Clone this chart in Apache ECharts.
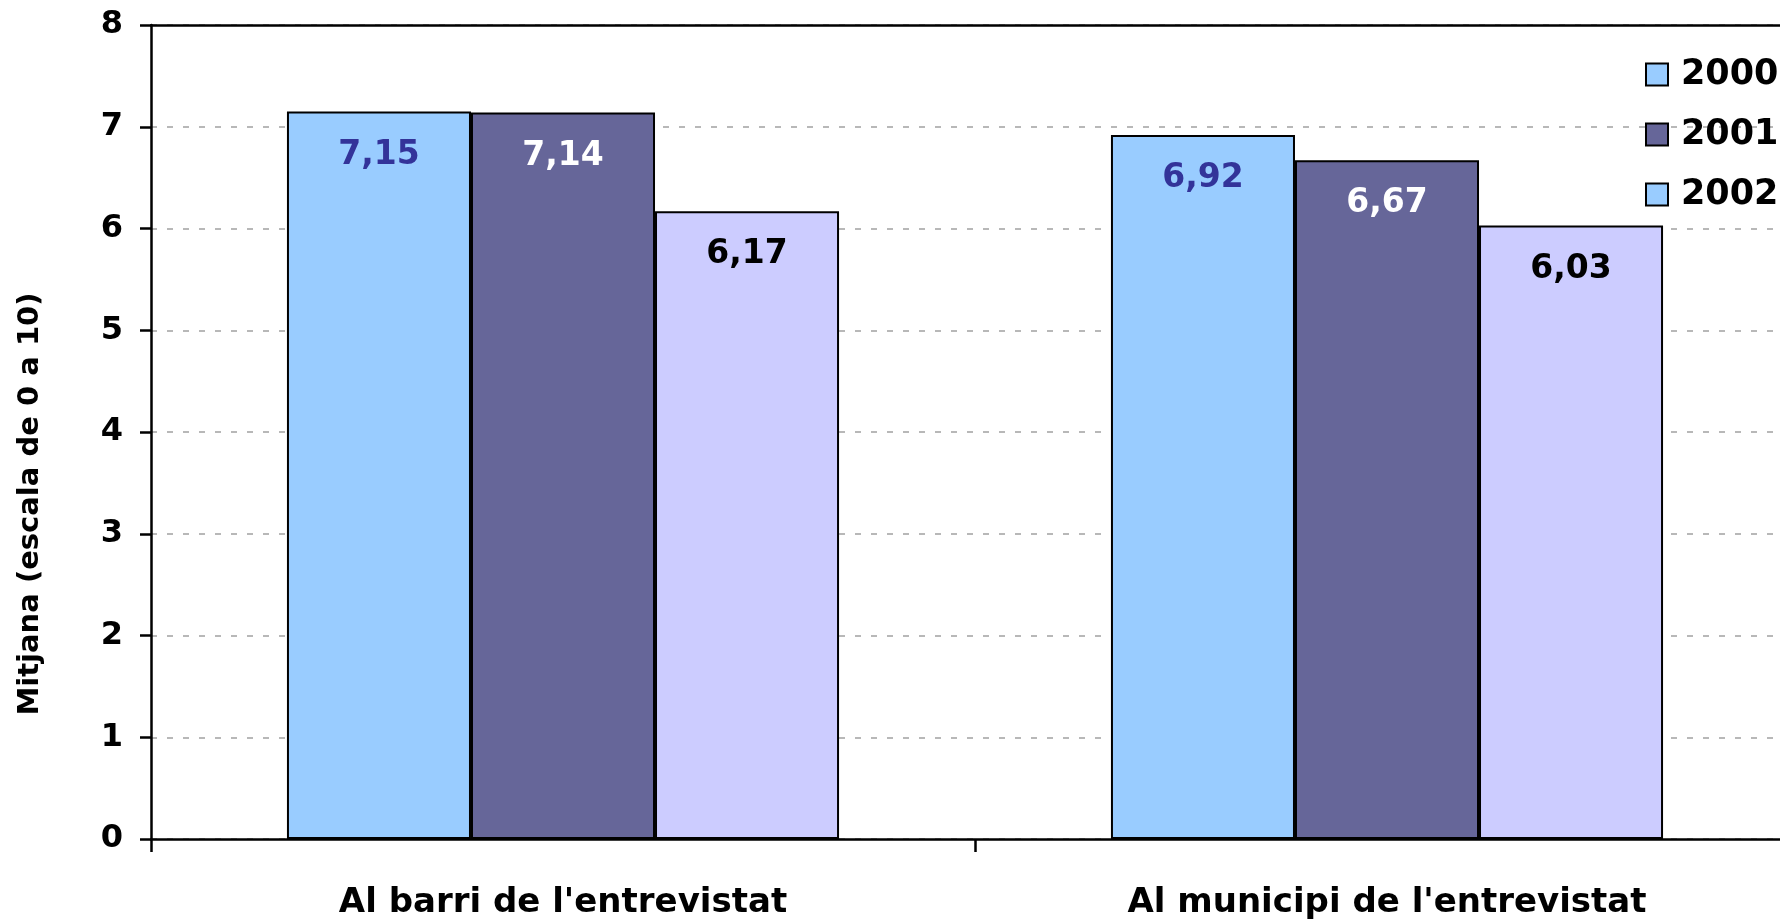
<!DOCTYPE html>
<html>
<head>
<meta charset="utf-8">
<script src="https://cdn.jsdelivr.net/npm/echarts@6/dist/echarts.min.js"></script>
<style>
  html, body { margin: 0; padding: 0; background: #fff; overflow: hidden; }
  /* the plot runs a little past the right edge of the picture */
  #chart { width: 1799px; height: 920px; }
</style>
</head>
<body>
<div id="chart"></div>
<script>
// data
const categories = ["Al barri de l'entrevistat", "Al municipi de l'entrevistat"]
const years = ['2000', '2001', '2002']
const values2000 = [7.15, 6.92]
const values2001 = [7.14, 6.67]
const values2002 = [6.17, 6.03]

const barColors = ['#99CCFF', '#666699', '#CCCCFF']
const labelColors = ['#333399', '#ffffff', '#000000']
const font = 'DejaVu Sans'

const fmt = (p) => p.value.toFixed(2).replace('.', ',')

function makeSeries(name, data, i) {
  return {
    name: name,
    type: 'bar',
    data: data,
    barGap: '0%',
    barCategoryGap: '33%',
    itemStyle: { color: barColors[i], borderColor: '#000', borderWidth: 2 },
    label: {
      show: true,
      position: 'insideTop',
      distance: 27,
      formatter: fmt,
      color: labelColors[i],
      fontFamily: font,
      fontWeight: 'bold',
      fontSize: 33
    }
  }
}

const chart = echarts.init(document.getElementById('chart'))
chart.setOption({
  animation: false,
  grid: { left: 151, right: 0, top: 25, bottom: 79 },
  legend: {
    orient: 'vertical',
    left: 1640,
    top: 52,
    itemWidth: 22,
    itemHeight: 22,
    itemGap: 25,
    icon: 'rect',
    itemStyle: { borderColor: '#000', borderWidth: 2 },
    textStyle: { fontFamily: font, fontWeight: 'bold', fontSize: 35, color: '#000', padding: [0, 0, 0, 8] },
    data: [
      { name: '2000' },
      { name: '2001' },
      // the reference draws the 2002 key in the 2000 colour
      { name: '2002', itemStyle: { color: '#99CCFF' } }
    ]
  },
  xAxis: [{
    type: 'category',
    data: categories,
    axisLine: { lineStyle: { color: '#000', width: 2.5 } },
    axisTick: { show: true, length: 13, lineStyle: { color: '#000', width: 2.5 } },
    axisLabel: { margin: 47, color: '#000', fontFamily: font, fontWeight: 'bold', fontSize: 34 }
  }, {
    type: 'category',
    position: 'top',
    data: categories,
    axisLine: { show: true, lineStyle: { color: '#000', width: 2.5 } },
    axisTick: { show: false },
    axisLabel: { show: false }
  }],
  yAxis: {
    type: 'value',
    min: 0,
    max: 8,
    interval: 1,
    name: 'Mitjana (escala de 0 a 10)',
    nameLocation: 'middle',
    nameGap: 106,
    nameTextStyle: { color: '#000', fontFamily: font, fontWeight: 'bold', fontSize: 29, padding: [0, 144, 0, 0] },
    axisLine: { show: true, lineStyle: { color: '#000', width: 2.5 } },
    axisTick: { show: true, length: 11, lineStyle: { color: '#000', width: 2.5 } },
    axisLabel: { margin: 28, color: '#000', fontFamily: font, fontWeight: 'bold', fontSize: 32 },
    splitLine: { lineStyle: { color: '#B8B8B8', width: 2, type: [6, 10] } }
  },
  series: [
    makeSeries(years[0], values2000, 0),
    makeSeries(years[1], values2001, 1),
    makeSeries(years[2], values2002, 2)
  ]
})
</script>
</body>
</html>
